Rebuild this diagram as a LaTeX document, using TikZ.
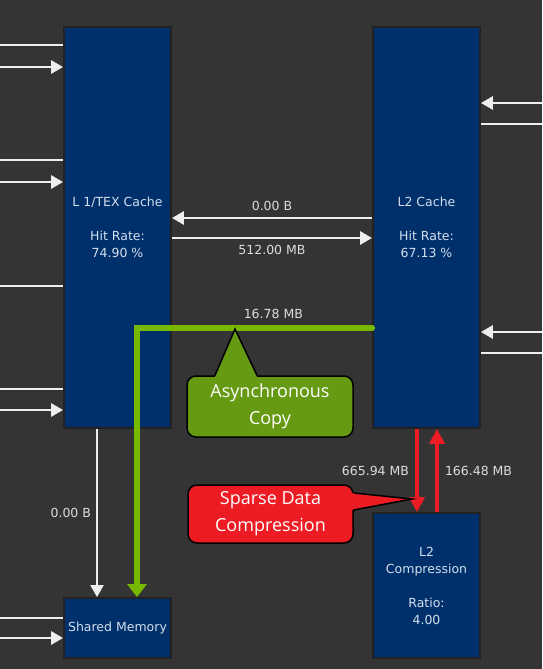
\documentclass[tikz,border=0pt]{standalone}
\usepackage{fontspec}
\setmainfont{DejaVu Sans}
\newfontfamily\calloutfont{Open Sans}
\usetikzlibrary{arrows.meta,calc,positioning}
\definecolor{Canvas}{HTML}{343434}
\definecolor{Navy}{HTML}{00306B}
\definecolor{BoxText}{HTML}{D2DEEE}
\definecolor{Wire}{HTML}{EEEEEE}
\definecolor{LabelGray}{HTML}{DCDCDC}
\definecolor{NvGreen}{HTML}{76B900}
\definecolor{Olive}{HTML}{669A12}
\definecolor{Alarm}{HTML}{ED1C24}
\definecolor{Rim}{HTML}{222222}
\tikzset{
  unit/.style={fill=Navy,draw=Rim,line width=1.8pt,text=BoxText,
    font=\fontsize{12.5}{17}\selectfont,align=center,inner sep=0pt,
    minimum width=107pt},
  wire/.style={draw=Wire,line width=2.8pt},
  warrow/.style={wire,-{Triangle[length=12pt,width=13pt]}},
  lbl/.style={text=LabelGray,font=\fontsize{12.5}{15}\selectfont,inner sep=1pt},
  gline/.style={draw=NvGreen,line width=6pt,line cap=round,
    -{Triangle[length=13pt,width=19pt,line cap=butt]}},
  rarrow/.style={draw=Alarm,line width=4pt,-{Triangle[length=15pt,width=15pt]}},
  callout/.style={draw=black,line width=1.5pt,rounded corners=9pt,text=white,
    font=\calloutfont\fontsize{18}{27}\selectfont,align=center,inner sep=0pt},
  pointer/.style={draw=black,line width=1.5pt,line join=miter}
}
\begin{document}
\begin{tikzpicture}[x=1pt,y=-1pt]
  \useasboundingbox[fill=Canvas] (0,0) rectangle (542,669);

  % units
  \node[unit,minimum height=401pt] (l1) at (117.5,227.5)
    {L 1/TEX Cache\\[17pt]Hit Rate:\\74.90 \%};
  \node[unit,minimum height=401pt] (l2) at (426.5,227.5)
    {L2 Cache\\[17pt]Hit Rate:\\67.13 \%};
  \node[unit,minimum height=145pt] (l2c) at (426.5,585.5)
    {L2\\Compression\\[17pt]Ratio:\\4.00};
  \node[unit,minimum height=60pt] (smem) at (117.5,628) {Shared Memory};

  % wires coming in from the left
  \foreach \y in {45,160,286,389}{
    \coordinate (w\y) at (0,\y);
    \draw[wire] (w\y -| l1.west) -- (w\y);
  }
  \foreach \y in {67,182,410}{
    \coordinate (w\y) at (0,\y);
    \draw[warrow] (w\y) -- (w\y -| l1.west);
  }
  \coordinate (w618) at (0,618);
  \coordinate (w638) at (0,638);
  \draw[wire] (w618 -| smem.west) -- (w618);
  \draw[warrow] (w638) -- (w638 -| smem.west);

  % wires on the right
  \foreach \y in {124,353}{
    \coordinate (e\y) at (542,\y);
    \draw[wire] (e\y -| l2.east) -- (e\y);
  }
  \foreach \y in {103,332}{
    \coordinate (e\y) at (542,\y);
    \draw[warrow] (e\y) -- (e\y -| l2.east);
  }

  % L1 <-> L2
  \draw[warrow] ([yshift=9.5pt]l2.west) -- node[lbl,above=5pt]{0.00 B}
    ([yshift=9.5pt]l1.east);
  \draw[warrow] ([yshift=-10.5pt]l1.east) -- node[lbl,below=5pt]{512.00 MB}
    ([yshift=-10.5pt]l2.west);

  % L1 -> shared memory
  \draw[warrow,line width=2pt] ([xshift=-20.5pt]l1.south) -- node[lbl,left=4pt]{0.00 B}
    ([xshift=-20.5pt]smem.north);

  % async copy path
  \draw[gline] ([yshift=-100.5pt]l2.west) -| node[pos=0.21,lbl,above=5pt]{16.78 MB}
    ([xshift=19.5pt]smem.north);

  % L2 <-> compression
  \draw[rarrow] ([xshift=-9.5pt]l2.south) -- node[lbl,left=5pt]{665.94 MB}
    ([xshift=-9.5pt]l2c.north);
  \draw[rarrow] ([xshift=10.5pt]l2c.north) -- node[lbl,right=5pt]{166.48 MB}
    ([xshift=10.5pt]l2.south);

  % callouts
  \node[callout,fill=Olive,minimum width=166pt,minimum height=61pt] (async)
    at (270,406.5) {Asynchronous\\Copy};
  \coordinate (asynctip) at (235,329);
  \fill[Olive] ([xshift=-55pt,yshift=-2pt]async.north) -- (asynctip)
    -- ([xshift=-13pt,yshift=-2pt]async.north) -- cycle;
  \draw[pointer] ([xshift=-55pt]async.north) -- (asynctip)
    -- ([xshift=-13pt]async.north);

  \node[callout,fill=Alarm,minimum width=165pt,minimum height=58pt] (sparse)
    at (270.5,514) {Sparse Data\\Compression};
  \coordinate (sparsetip) at (412,499);
  \fill[Alarm] ([xshift=-2pt,yshift=21pt]sparse.east) -- (sparsetip)
    -- ([xshift=-2pt,yshift=4pt]sparse.east) -- cycle;
  \draw[pointer] ([yshift=21pt]sparse.east) -- (sparsetip)
    -- ([yshift=4pt]sparse.east);
\end{tikzpicture}
\end{document}
